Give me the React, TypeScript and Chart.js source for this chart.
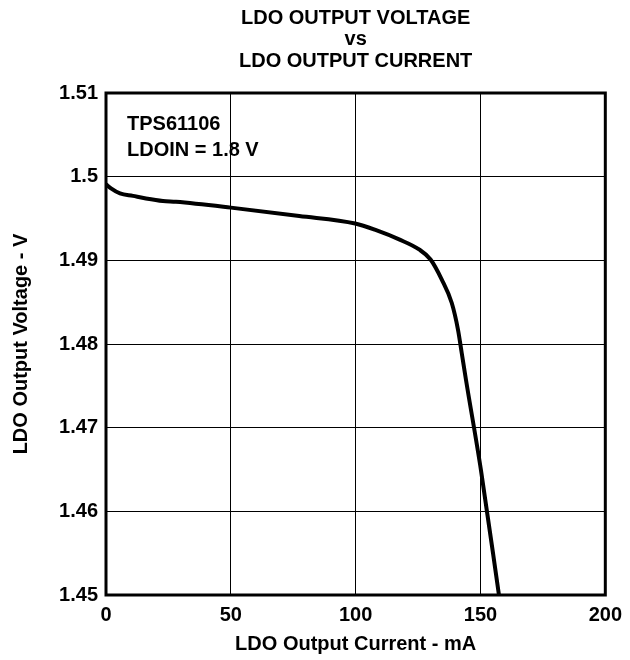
import React, { useEffect, useRef } from "react";
import { Chart, registerables } from "chart.js";

Chart.register(...registerables);

const currentMA = [0, 2, 5.6, 10.8, 16, 22.8, 28, 50, 77.4, 99.8, 108.2, 117.4, 125.4, 130, 134.5, 138.5, 141, 142.5, 144.2, 150.2, 157.4];
const voltageV = [1.4991, 1.4986, 1.498, 1.4977, 1.4974, 1.4971, 1.4970, 1.4963, 1.4953, 1.4944, 1.4936, 1.4925, 1.4913, 1.4901, 1.4877, 1.4849, 1.4817, 1.4789, 1.4757, 1.4649, 1.45];

const xTicks = [0, 50, 100, 150, 200];
const xTickLabels = ["0", "50", "100", "150", "200"];
const yTicks = [1.45, 1.46, 1.47, 1.48, 1.49, 1.5, 1.51];
const yTickLabels = ["1.45", "1.46", "1.47", "1.48", "1.49", "1.5", "1.51"];

const titleLines = ["LDO OUTPUT VOLTAGE", "vs", "LDO OUTPUT CURRENT"];
const noteLines = ["TPS61106", "LDOIN = 1.8 V"];
const xTitle = "LDO Output Current - mA";
const yTitle = "LDO Output Voltage - V";

const FONT = "'Liberation Sans', Arial, Helvetica, sans-serif";

export default function App() {
  const ref = useRef<HTMLCanvasElement | null>(null);

  useEffect(() => {
    if (!ref.current) return;
    const textPlugin = {
      id: "texts",
      afterDraw(chart: any) {
        const ctx = chart.ctx;
        const area = chart.chartArea;
        ctx.save();
        ctx.strokeStyle = "#000";
        ctx.lineWidth = 3;
        ctx.strokeRect(area.left, area.top, area.right - area.left, area.bottom - area.top);
        ctx.fillStyle = "#000";
        ctx.font = `bold 20px ${FONT}`;
        ctx.textAlign = "center";
        ctx.textBaseline = "alphabetic";
        const cx = (area.left + area.right) / 2;
        const baselines = [24, 45, 67];
        titleLines.forEach((t, i) => ctx.fillText(t, cx, baselines[i]));
        ctx.textAlign = "left";
        const nb = [130, 156];
        noteLines.forEach((t, i) => ctx.fillText(t, area.left + 21, nb[i]));
        ctx.restore();
      },
    };

    const chart = new Chart(ref.current, {
      type: "line",
      data: {
        datasets: [
          {
            data: currentMA.map((x, i) => ({ x, y: voltageV[i] })),
            borderColor: "#000",
            borderWidth: 4,
            pointRadius: 0,
            cubicInterpolationMode: "monotone",
            fill: false,
          },
        ],
      },
      options: {
        animation: false,
        responsive: true,
        maintainAspectRatio: false,
        layout: { padding: { left: 0, right: 23, top: 93, bottom: 0 } },
        plugins: { legend: { display: false }, tooltip: { enabled: false }, title: { display: false } },
        scales: {
          x: {
            type: "linear",
            min: 0,
            max: 200,
            afterBuildTicks: (scale: any) => {
              scale.ticks = xTicks.map((v) => ({ value: v }));
            },
            afterFit: (scale: any) => {
              scale.height = 65;
            },
            ticks: {
              color: "#000",
              font: { family: FONT, size: 20, weight: "bold" },
              padding: 8,
              maxRotation: 0,
              callback: (v: any) => {
                const i = xTicks.indexOf(Number(v));
                return i >= 0 ? xTickLabels[i] : "";
              },
            },
            grid: { color: "#000", lineWidth: 1, drawTicks: false },
            border: { display: false },
            title: {
              display: true,
              text: xTitle,
              color: "#000",
              font: { family: FONT, size: 20, weight: "bold" },
              padding: { top: 0, bottom: 4 },
            },
          },
          y: {
            type: "linear",
            min: 1.45,
            max: 1.51,
            afterBuildTicks: (scale: any) => {
              scale.ticks = yTicks.map((v) => ({ value: v }));
            },
            afterFit: (scale: any) => {
              scale.width = 106;
            },
            ticks: {
              color: "#000",
              font: { family: FONT, size: 20, weight: "bold" },
              padding: 8,
              callback: (v: any) => {
                const i = yTicks.findIndex((t) => Math.abs(t - Number(v)) < 1e-6);
                return i >= 0 ? yTickLabels[i] : "";
              },
            },
            grid: { color: "#000", lineWidth: 1, drawTicks: false },
            border: { display: false },
            title: {
              display: true,
              text: yTitle,
              color: "#000",
              font: { family: FONT, size: 20, weight: "bold" },
              padding: { top: 9, bottom: 0 },
            },
          },
        },
      },
      plugins: [textPlugin],
    } as any);
    return () => chart.destroy();
  }, []);

  return (
    <div style={{ position: "fixed", left: 0, top: 0, width: 630, height: 660, background: "#fff" }}>
      <canvas ref={ref} />
    </div>
  );
}
